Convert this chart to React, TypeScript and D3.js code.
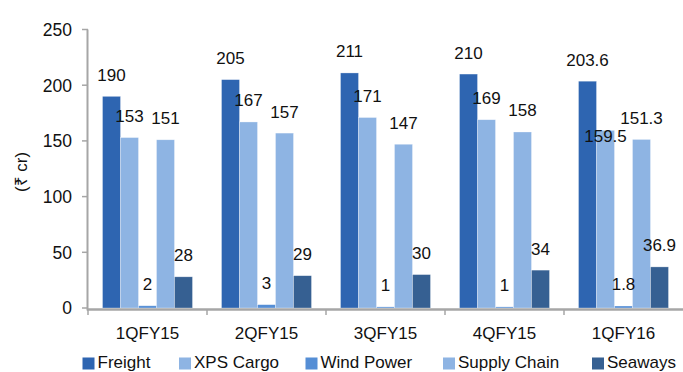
import React from "react";
import * as d3 from "d3";

const categories = ["1QFY15", "2QFY15", "3QFY15", "4QFY15", "1QFY16"];
const seriesNames = ["Freight", "XPS Cargo", "Wind Power", "Supply Chain", "Seaways"];
const freight = [190, 205, 211, 210, 203.6];
const xpsCargo = [153, 167, 171, 169, 159.5];
const windPower = [2, 3, 1, 1, 1.8];
const supplyChain = [151, 157, 147, 158, 151.3];
const seaways = [28, 29, 30, 34, 36.9];
const yTicks = [0, 50, 100, 150, 200, 250];

const seriesValues = [freight, xpsCargo, windPower, supplyChain, seaways];
const colors = ["#2E65B1", "#8EB4E3", "#558ED5", "#8EB4E3", "#366092"];
// label placed inside the bar for overlapping label (Excel-style collision)
const labelInside: Record<string, boolean> = { "1QFY16|XPS Cargo": true };
const legendX = [82.5, 179, 305.5, 443, 592];

const W = 683;
const H = 372;
const FONT = "'Liberation Sans', Arial, sans-serif";

export default function App() {
  const x0 = d3.scaleBand<string>().domain(categories).range([88, 88 + 119 * 5]).paddingInner(0).paddingOuter(0);
  const x1 = d3.scaleBand<string>().domain(seriesNames).range([0, x0.bandwidth()]).paddingInner(0).paddingOuter(0.806);
  const y = d3.scaleLinear().domain([0, 250]).range([308, 29.5]);
  const axisColor = "#A6A6A6";

  return (
    <svg width={W} height={H} style={{ position: "absolute", left: 0, top: 0 }} fontFamily={FONT}>
      <rect width={W} height={H} fill="#fff" />
      {/* bars */}
      {categories.map((c, ci) => (
        <g key={c}>
          {seriesNames.map((s, si) => {
            const v = seriesValues[si][ci];
            const bx = (x0(c) ?? 0) + (x1(s) ?? 0);
            const by = y(v);
            return (
              <rect key={s} x={bx} y={by} width={x1.bandwidth()} height={y(0) - by}
                fill={colors[si]} stroke="#ffffff" strokeOpacity={0.5} strokeWidth={0.6} />
            );
          })}
        </g>
      ))}
      {/* labels */}
      {categories.map((c, ci) => (
        <g key={c + "l"}>
          {seriesNames.map((s, si) => {
            const v = seriesValues[si][ci];
            const cx = (x0(c) ?? 0) + (x1(s) ?? 0) + x1.bandwidth() / 2;
            const inside = labelInside[c + "|" + s];
            const ly = inside ? y(v) + 11.7 : y(v) - 15.5;
            return (
              <text key={s} x={cx} y={ly} textAnchor="middle" fontSize={17} fill="#111">
                {String(v)}
              </text>
            );
          })}
        </g>
      ))}
      {/* y axis */}
      <line x1={87.5} x2={87.5} y1={y(250)} y2={310.5} stroke={axisColor} strokeWidth={2} />
      {yTicks.map((t) => (
        <g key={t}>
          <line x1={82} x2={88} y1={y(t)} y2={y(t)} stroke={axisColor} strokeWidth={1.5} />
          <text x={72} y={y(t)} dy="0.36em" textAnchor="end" fontSize={17.5} fill="#111">
            {t}
          </text>
        </g>
      ))}
      {/* x axis */}
      <line x1={87} x2={W} y1={309.5} y2={309.5} stroke={axisColor} strokeWidth={2.5} />
      {categories.map((c) => (
        <line key={c + "t"} x1={x0(c) ?? 0} x2={x0(c) ?? 0} y1={309} y2={315} stroke={axisColor} strokeWidth={1.5} />
      ))}
      {categories.map((c) => (
        <text key={c + "c"} x={(x0(c) ?? 0) + x0.bandwidth() / 2} y={339} textAnchor="middle" fontSize={17} fill="#111">
          {c}
        </text>
      ))}
      {/* y label */}
      <text transform="translate(27,172) rotate(-90)" textAnchor="middle" fontSize={17} fill="#111">
        (₹ cr)
      </text>
      {/* legend */}
      {seriesNames.map((s, si) => (
        <g key={s + "lg"}>
          <rect x={legendX[si]} y={357.5} width={12} height={12} fill={colors[si]} />
          <text x={legendX[si] + 15} y={368} fontSize={17} fill="#111">
            {s}
          </text>
        </g>
      ))}
    </svg>
  );
}
